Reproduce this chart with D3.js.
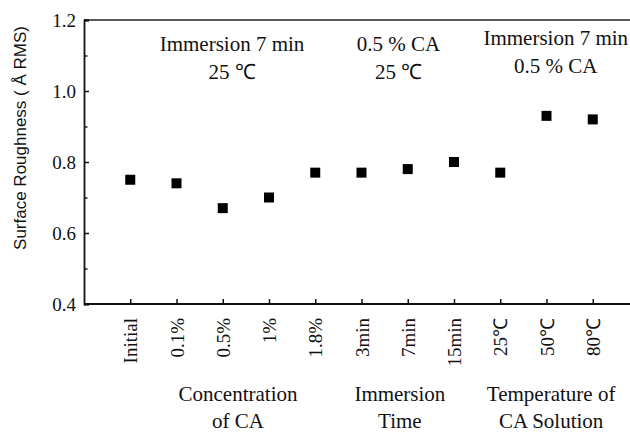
<!DOCTYPE html>
<html>
<head>
<meta charset="utf-8">
<script src="https://cdn.jsdelivr.net/npm/d3@7/dist/d3.min.js"></script>
<style>
  html, body { margin: 0; padding: 0; background: #fff; }
  svg { display: block; }
</style>
</head>
<body>
<svg id="chart" width="630" height="434"></svg>
<script>
// Surface roughness for each treatment condition
const categories = ["Initial", "0.1%", "0.5%", "1%", "1.8%", "3min", "7min", "15min", "25℃", "50℃", "80℃"];
const roughness = [0.75, 0.74, 0.67, 0.70, 0.77, 0.77, 0.78, 0.80, 0.77, 0.93, 0.92];
const yTicks = [0.4, 0.6, 0.8, 1.0, 1.2];
const yMinorTicks = [0.5, 0.7, 0.9, 1.1];

// Condition notes above each group, and group names below the axis
const groupNotes = [
  { lines: ["Immersion 7 min", "25 ℃"], at: 2.2, rise: 0 },
  { lines: ["0.5 % CA", "25 ℃"], at: 5.8, rise: 0 },
  { lines: ["Immersion 7 min", "0.5 % CA"], at: 9.2, rise: 6 }
];
const groupNames = [
  { lines: ["Concentration", "of CA"], at: 2.33 },
  { lines: ["Immersion", "Time"], at: 5.83 },
  { lines: ["Temperature of", "CA Solution"], at: 9.1 }
];

const SERIF = '"Liberation Serif", "Times New Roman", Times, serif';
const SANS = '"Liberation Sans", Arial, Helvetica, sans-serif';

const svg = d3.select("#chart");
const plotLeft = 84, plotRight = 639, plotTop = 20, plotBottom = 304;

const x = d3.scaleLinear().domain([-1, 11]).range([plotLeft, plotRight]);
const y = d3.scaleLinear().domain([0.4, 1.2]).range([plotBottom, plotTop]);

// frame lines
const frame = svg.append("g");
frame.append("line").attr("x1", plotLeft).attr("x2", plotRight).attr("y1", plotTop).attr("y2", plotTop)
  .attr("stroke", "#222").attr("stroke-width", 1.3);
frame.append("line").attr("x1", plotRight).attr("x2", plotRight).attr("y1", plotTop).attr("y2", plotBottom)
  .attr("stroke", "#222").attr("stroke-width", 1.6);

// y axis with inward ticks
const yAxis = d3.axisLeft(y).tickValues(yTicks).tickSize(-5).tickPadding(8)
  .tickFormat(d3.format(".1f"));
const gy = svg.append("g").attr("transform", `translate(${plotLeft},0)`).call(yAxis);
gy.select(".domain").attr("stroke", "#111").attr("stroke-width", 1.8);
gy.selectAll(".tick line").attr("stroke", "#111").attr("stroke-width", 1.5);
gy.selectAll(".tick text")
  .style("font-family", SERIF).style("font-size", "19px").style("fill", "#111")
  .attr("dy", "0.34em");

const gyMinor = svg.append("g").attr("transform", `translate(${plotLeft},0)`)
  .call(d3.axisLeft(y).tickValues(yMinorTicks).tickSize(-3.5).tickFormat(""));
gyMinor.select(".domain").remove();
gyMinor.selectAll(".tick line").attr("stroke", "#111").attr("stroke-width", 1.4);

// x axis with inward ticks and vertical labels
const xAxis = d3.axisBottom(x).tickValues(d3.range(categories.length)).tickSize(-5)
  .tickFormat(i => categories[i]);
const gx = svg.append("g").attr("transform", `translate(0,${plotBottom})`).call(xAxis);
gx.select(".domain").attr("d", `M${plotLeft},0H${plotRight}`).attr("stroke", "#111").attr("stroke-width", 1.8);
gx.selectAll(".tick line").attr("stroke", "#111").attr("stroke-width", 1.5);
gx.selectAll(".tick text")
  .style("font-family", SERIF).style("font-size", "19px").style("fill", "#111")
  .attr("text-anchor", "end")
  .attr("transform", "translate(0,14) rotate(-90)")
  .attr("x", 0).attr("y", 0).attr("dy", "0.35em");

// y axis title
svg.append("text")
  .style("font-family", SANS).style("font-size", "17px").style("fill", "#111")
  .attr("transform", `translate(26,138) rotate(-90)`)
  .attr("text-anchor", "middle")
  .text("Surface Roughness ( Å RMS)");

// data markers
const size = 10;
svg.append("g").selectAll("rect").data(roughness).join("rect")
  .attr("x", (d, i) => x(i) - size / 2)
  .attr("y", d => y(d) - size / 2)
  .attr("width", size).attr("height", size)
  .attr("fill", "#000");

// condition notes inside the plot
groupNotes.forEach(g => {
  const t = svg.append("text")
    .style("font-family", SERIF).style("font-size", "21px").style("fill", "#111")
    .attr("text-anchor", "middle");
  g.lines.forEach((line, k) => {
    t.append("tspan").attr("x", x(g.at)).attr("y", 51 - g.rise + k * 28).text(line);
  });
});

// group names below the axis
groupNames.forEach(g => {
  const t = svg.append("text")
    .style("font-family", SERIF).style("font-size", "21px").style("fill", "#111")
    .attr("text-anchor", "middle");
  g.lines.forEach((line, k) => {
    t.append("tspan").attr("x", x(g.at)).attr("y", 401 + k * 27).text(line);
  });
});
</script>
</body>
</html>
